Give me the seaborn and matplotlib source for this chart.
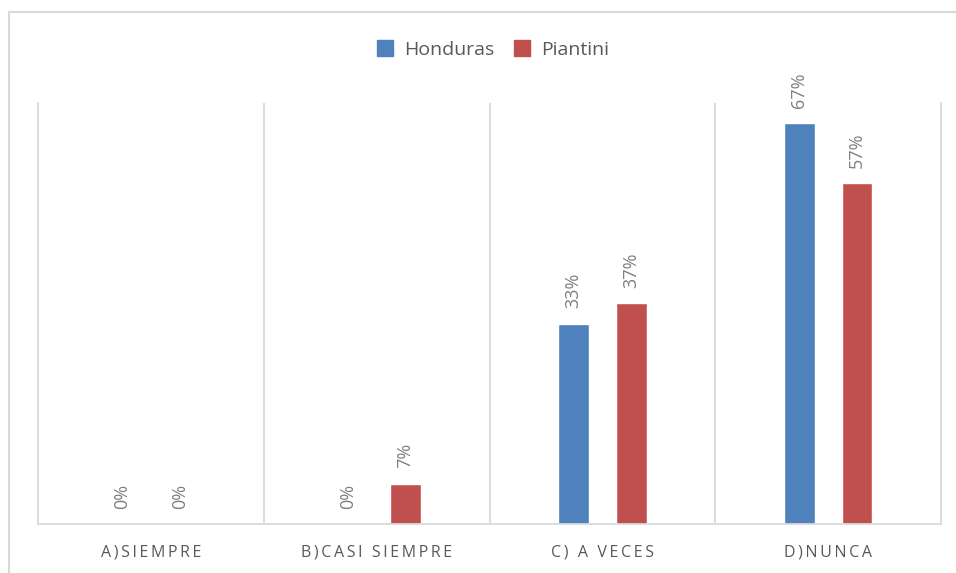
import pandas as pd
import matplotlib.pyplot as plt
import seaborn as sns
from matplotlib.lines import Line2D

categories = ["A)SIEMPRE", "B)CASI SIEMPRE", "C) A VECES", "D)NUNCA"]
honduras = [0.00, 0.00, 0.333, 0.667]
piantini = [0.00, 0.067, 0.367, 0.567]
series = ["Honduras", "Piantini"]
colors = ["#4F81BD", "#C0504D"]

df = pd.DataFrame({
    "Respuesta": categories * 2,
    "Serie": [series[0]] * 4 + [series[1]] * 4,
    "Valor": honduras + piantini,
})

sns.set_style("white")
plt.rcParams["font.family"] = ["Open Sans", "DejaVu Sans"]
grey = "#595959"
label_grey = "#7F7F7F"
line_grey = "#D9D9D9"

fig = plt.figure(figsize=(9.56, 5.73), dpi=100)
ax = fig.add_axes([38 / 956, 49 / 573, 903 / 956, 421 / 573])

sns.barplot(data=df, x="Respuesta", y="Valor", hue="Serie", palette=colors,
            width=0.513, gap=0.47, ax=ax, saturation=1, errorbar=None)

for cont in ax.containers:
    ax.bar_label(cont, labels=[f"{v:.0%}" for v in cont.datavalues],
                 rotation=90, padding=11, color=label_grey, fontsize=13)

ax.set_xlim(-0.5, 3.5)
ax.set_ylim(0, 0.70)
ax.set_xlabel("")
ax.set_ylabel("")
ax.set_yticks([])
# spaced-out category labels like the original
ax.set_xticks(range(len(categories)))
ax.set_xticklabels(["\u2009".join(c) for c in categories])
ax.tick_params(axis="x", length=0, pad=15, labelsize=11.5, labelcolor=grey)
for x in [0.5, 1.5, 2.5]:
    ax.axvline(x, color=line_grey, lw=1.3, zorder=0)
for side in ["left", "right", "bottom"]:
    ax.spines[side].set_color(line_grey)
    ax.spines[side].set_linewidth(1.3)
ax.spines["top"].set_visible(False)

handles = [Line2D([], [], marker="s", ls="", markersize=11, color=c) for c in colors]
ax.legend(handles, series, loc="center", bbox_to_anchor=(0.51, 0.913),
          bbox_transform=fig.transFigure, ncol=2, frameon=False,
          handletextpad=0.0, columnspacing=0.4, fontsize=14, labelcolor=grey)

# outer chart frame (top and left edges visible)
fig.add_artist(Line2D([9 / 956, 9 / 956], [0, 1 - 12 / 573], color=line_grey,
                      lw=1.5, transform=fig.transFigure))
fig.add_artist(Line2D([9 / 956, 1], [1 - 12 / 573, 1 - 12 / 573], color=line_grey,
                      lw=1.5, transform=fig.transFigure))

fig.savefig("out.png", dpi=100)
